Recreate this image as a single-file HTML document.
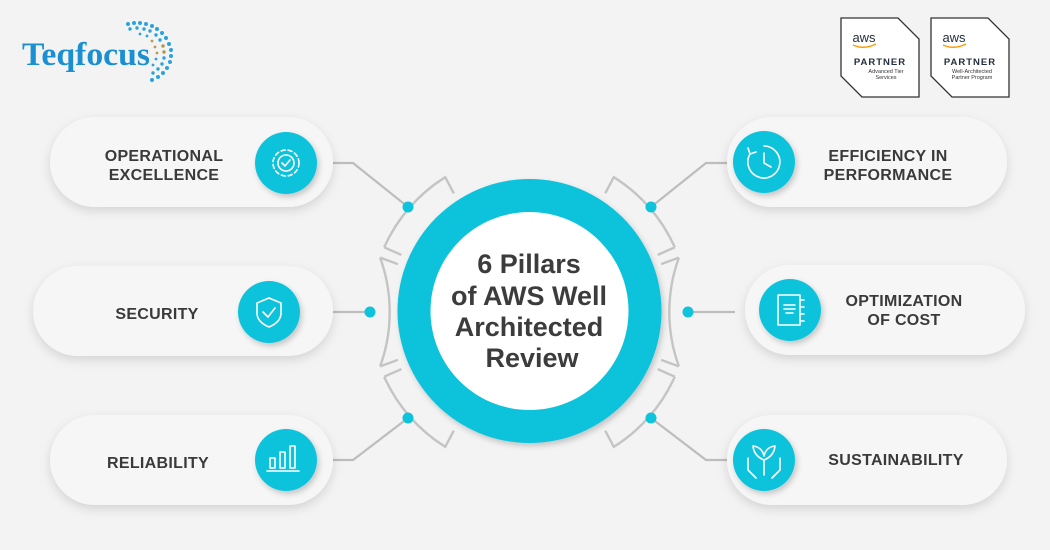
<!DOCTYPE html>
<html><head><meta charset="utf-8"><style>
html,body{margin:0;padding:0;background:#f3f3f3;}
svg{display:block;}
</style></head><body>
<svg width="1050" height="550" viewBox="0 0 1050 550" xmlns="http://www.w3.org/2000/svg">
<defs>
<filter id="sh" x="-20%" y="-30%" width="140%" height="170%"><feDropShadow dx="0" dy="4" stdDeviation="5" flood-color="#000" flood-opacity="0.13"/></filter>
<filter id="sh2" x="-30%" y="-30%" width="160%" height="160%"><feDropShadow dx="2" dy="3" stdDeviation="3" flood-color="#000" flood-opacity="0.2"/></filter>
</defs>
<rect width="1050" height="550" fill="#f3f3f3"/>

<!-- logo -->
<text x="22" y="65" font-family="Liberation Serif, serif" font-size="33" font-weight="bold" fill="#1a8fd2" textLength="128" lengthAdjust="spacingAndGlyphs">Teqfocus</text>
<g fill="#2aa3dc">
<circle cx="128" cy="24" r="2"/><circle cx="134" cy="23" r="2"/><circle cx="140" cy="23" r="2"/><circle cx="146" cy="24" r="2"/><circle cx="152" cy="26" r="2"/><circle cx="157" cy="29" r="2"/><circle cx="162" cy="33" r="2"/><circle cx="166" cy="38" r="2"/><circle cx="169" cy="44" r="2"/><circle cx="171" cy="50" r="2"/><circle cx="171" cy="56" r="2"/><circle cx="170" cy="62" r="2"/><circle cx="167" cy="68" r="2"/><circle cx="163" cy="73" r="2"/><circle cx="158" cy="77" r="2"/><circle cx="152" cy="80" r="2"/>
<circle cx="130" cy="29" r="1.7"/><circle cx="137" cy="28" r="1.7"/><circle cx="144" cy="29" r="1.7"/><circle cx="150" cy="31" r="1.7"/><circle cx="156" cy="35" r="1.7"/><circle cx="160" cy="40" r="1.7"/><circle cx="163" cy="46" r="1.7" fill="#a89a50"/><circle cx="164" cy="52" r="1.7" fill="#a89a50"/><circle cx="164" cy="58" r="1.7"/><circle cx="162" cy="64" r="1.7"/><circle cx="158" cy="69" r="1.7"/><circle cx="153" cy="73" r="1.7"/>
<circle cx="140" cy="34" r="1.4"/><circle cx="147" cy="36" r="1.4"/><circle cx="152" cy="41" r="1.4" fill="#b89a50"/><circle cx="155" cy="47" r="1.4" fill="#b89a50"/><circle cx="157" cy="53" r="1.4" fill="#b89a50"/><circle cx="156" cy="59" r="1.4"/><circle cx="153" cy="65" r="1.4"/>
</g>

<!-- AWS badges -->
<g font-family="Liberation Sans, sans-serif" text-anchor="middle">
<path d="M841 18 H898 L919 39 V97 H862 L841 76 Z" fill="#fff" stroke="#333" stroke-width="1.3"/>
<text x="864" y="42" font-size="13" fill="#232f3e">aws</text>
<path d="M853 45 Q864 50 876 44" stroke="#f90" stroke-width="1.5" fill="none"/>
<text x="880" y="65" font-size="9.5" font-weight="bold" fill="#232f3e" letter-spacing="1">PARTNER</text>
<text x="886" y="73" font-size="5.5" fill="#333">Advanced Tier</text>
<text x="886" y="79" font-size="5.5" fill="#333">Services</text>
<path d="M931 18 H988 L1009 39 V97 H952 L931 76 Z" fill="#fff" stroke="#333" stroke-width="1.3"/>
<text x="954" y="42" font-size="13" fill="#232f3e">aws</text>
<path d="M943 45 Q954 50 966 44" stroke="#f90" stroke-width="1.5" fill="none"/>
<text x="970" y="65" font-size="9.5" font-weight="bold" fill="#232f3e" letter-spacing="1">PARTNER</text>
<text x="972" y="73" font-size="5.5" fill="#333">Well-Architected</text>
<text x="972" y="79" font-size="5.5" fill="#333">Partner Program</text>
</g>

<!-- connectors -->
<g stroke="#bdbdbd" stroke-width="2.2" fill="none">
<polyline points="325,163 353,163 408,207"/>
<polyline points="325,312 370,312"/>
<polyline points="325,460 353,460 408,418"/>
<polyline points="735,163 706,163 651,207"/>
<polyline points="735,312 688,312"/>
<polyline points="735,460 706,460 651,418"/>
</g>
<!-- bracket arcs -->
<g stroke="#c4c4c4" stroke-width="2.4" fill="none" transform="translate(529.5,312)">
<path d="M-145.3,-64.7 A159,159 0 0 1 -84.3,-134.8 L-75.7,-118.7 M-145.3,-64.7 L-128.2,-57.1"/>
<path d="M-149.4,-54.4 A159,159 0 0 1 -149.4,54.4 M-149.4,-54.4 L-131.6,-47.9 M-149.4,54.4 L-131.6,47.9"/>
<path d="M-145.3,64.7 A159,159 0 0 0 -84.3,134.8 L-75.7,118.7 M-145.3,64.7 L-128.2,57.1"/>
<path d="M145.3,-64.7 A159,159 0 0 0 84.3,-134.8 L75.7,-118.7 M145.3,-64.7 L128.2,-57.1"/>
<path d="M149.4,-54.4 A159,159 0 0 0 149.4,54.4 M149.4,-54.4 L131.6,-47.9 M149.4,54.4 L131.6,47.9"/>
<path d="M145.3,64.7 A159,159 0 0 1 84.3,134.8 L75.7,118.7 M145.3,64.7 L128.2,57.1"/>
</g>
<g fill="#0ec3dc">
<circle cx="408" cy="207" r="5.5"/><circle cx="370" cy="312" r="5.5"/><circle cx="408" cy="418" r="5.5"/>
<circle cx="651" cy="207" r="5.5"/><circle cx="688" cy="312" r="5.5"/><circle cx="651" cy="418" r="5.5"/>
</g>

<!-- center -->
<circle cx="529.5" cy="311" r="132" fill="#0ec3dc" filter="url(#sh2)"/>
<circle cx="529.5" cy="311" r="99" fill="#fff"/>
<g font-family="Liberation Sans, sans-serif" font-weight="bold" font-size="27" fill="#3c3c3c" text-anchor="middle">
<text x="529" y="273">6 Pillars</text>
<text x="529" y="305">of AWS Well</text>
<text x="529" y="336">Architected</text>
<text x="532" y="367">Review</text>
</g>

<!-- cards -->
<g fill="#f6f6f6" filter="url(#sh)">
<rect x="50" y="117" width="283" height="90" rx="45"/>
<rect x="33" y="266" width="300" height="90" rx="45"/>
<rect x="50" y="415" width="283" height="90" rx="45"/>
<rect x="727" y="117" width="280" height="90" rx="45"/>
<rect x="745" y="265" width="280" height="90" rx="45"/>
<rect x="727" y="415" width="280" height="90" rx="45"/>
</g>
<g fill="#0ec3dc" filter="url(#sh2)">
<circle cx="286" cy="163" r="31"/><circle cx="269" cy="312" r="31"/><circle cx="286" cy="460" r="31"/>
<circle cx="764" cy="162" r="31"/><circle cx="790" cy="310" r="31"/><circle cx="764" cy="460" r="31"/>
</g>
<!-- icons -->
<g stroke="#fff" stroke-width="1.6" fill="none" stroke-linejoin="round" stroke-linecap="round">
<circle cx="286" cy="163" r="13" stroke-dasharray="4 3"/><circle cx="286" cy="163" r="8"/><polyline points="282,163 285,166 290,160"/>
<path d="M269 298 L281 303 V313 Q281 322 269 327 Q257 322 257 313 V303 Z"/><polyline points="263,312 268,317 275,308"/>
<rect x="270" y="458" width="5" height="10"/><rect x="280" y="452" width="5" height="16"/><rect x="290" y="446" width="5" height="22"/><line x1="267" y1="471" x2="299" y2="471"/>
<path d="M764 146 A16 16 0 1 1 750 154"/><polyline points="764,153 764,163 771,167"/><polyline points="748,148 750,154 756,152"/>
<rect x="778" y="295" width="22" height="30"/><line x1="784" y1="305" x2="795" y2="305"/><line x1="784" y1="309" x2="795" y2="309"/><line x1="786" y1="313" x2="793" y2="313"/><path d="M800 300 h4 M800 307 h4 M800 314 h4 M800 321 h4"/>
<path d="M764 475 V460 M764 460 Q754 456 753 446 Q762 447 764 456 Q766 447 775 446 Q774 456 764 460"/><path d="M748 458 V470 L756 478 M780 458 V470 L772 478"/>
</g>
<!-- labels -->
<g font-family="Liberation Sans, sans-serif" font-weight="bold" font-size="16" fill="#3a3a3a" text-anchor="middle" letter-spacing="0.3">
<text x="164" y="161">OPERATIONAL</text><text x="164" y="180">EXCELLENCE</text>
<text x="157" y="319">SECURITY</text>
<text x="158" y="468">RELIABILITY</text>
<text x="888" y="161">EFFICIENCY IN</text><text x="888" y="180">PERFORMANCE</text>
<text x="904" y="306">OPTIMIZATION</text><text x="904" y="325">OF COST</text>
<text x="896" y="465">SUSTAINABILITY</text>
</g>
</svg>
</body></html>
